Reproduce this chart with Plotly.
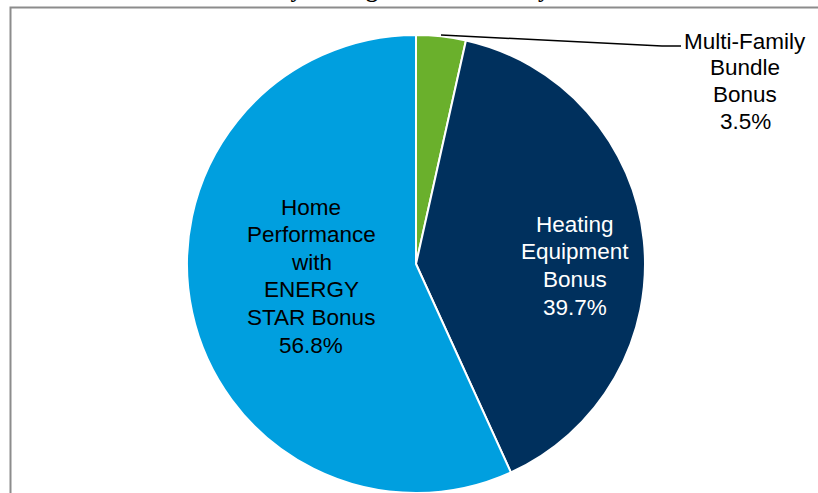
import plotly.graph_objects as go

W, H = 818, 493

categories = ["Multi-Family Bundle Bonus", "Heating Equipment Bonus",
              "Home Performance with ENERGY STAR Bonus"]
shares = [3.5, 39.7, 56.8]
label_lines = [["Multi-Family", "Bundle", "Bonus"],
               ["Heating", "Equipment", "Bonus"],
               ["Home", "Performance", "with", "ENERGY", "STAR Bonus"]]
colors = ["#6AB02C", "#00305D", "#009FDF"]
title_text = "Electricity Savings Distribution by Bonus"

fig = go.Figure(go.Pie(
    labels=categories, values=shares, sort=False, direction="clockwise",
    rotation=0, marker=dict(colors=colors, line=dict(color="white", width=2)),
    textinfo="none", hoverinfo="label+percent", showlegend=False,
    domain=dict(x=[187 / W, 645 / W], y=[0, 1 - 35 / H]),
))

def px(x):
    return x / W

def py(y):
    return 1 - y / H

font_family = "Liberation Sans, Arial, sans-serif"
# (x centre, y of first line, line step, colour)
label_pos = [(745, 39, 26.8, "black"), (575, 222, 27.7, "white"),
             (311, 205, 27.6, "black")]
for lines, v, (x, y0, step, c) in zip(label_lines, shares, label_pos):
    for i, line in enumerate(lines + [f"{v:.1f}%"]):
        fig.add_annotation(text=line, x=px(x), y=py(y0 + i * step),
                           xref="paper", yref="paper", showarrow=False,
                           font=dict(color=c, family=font_family, size=22.5),
                           xanchor="center", yanchor="middle", yshift=-2)

# leader line
fig.add_shape(type="path", xref="paper", yref="paper",
              path=f"M {px(441)} {py(35)} L {px(662)} {py(46)} L {px(681)} {py(46)}",
              line=dict(color="black", width=1.5))

# frame
fig.add_shape(type="rect", xref="paper", yref="paper",
              x0=px(10.5), y0=-0.2, x1=1.2, y1=py(7.5),
              line=dict(color="#8C8C8C", width=2), fillcolor="rgba(0,0,0,0)")

# title (mostly above the visible area)
fig.add_annotation(text=f"<b>{title_text}</b>", x=px(408), y=1, xref="paper",
                   yref="paper", yanchor="bottom", xanchor="center", yshift=-4,
                   showarrow=False,
                   font=dict(family="Liberation Serif, Times New Roman, serif",
                             size=24, color="black"))

fig.update_layout(width=W, height=H, margin=dict(l=0, r=0, t=0, b=0),
                  paper_bgcolor="white", plot_bgcolor="white")

fig.write_html("out.html", config={"displayModeBar": False},
               post_script="document.body.style.margin='0px';")
